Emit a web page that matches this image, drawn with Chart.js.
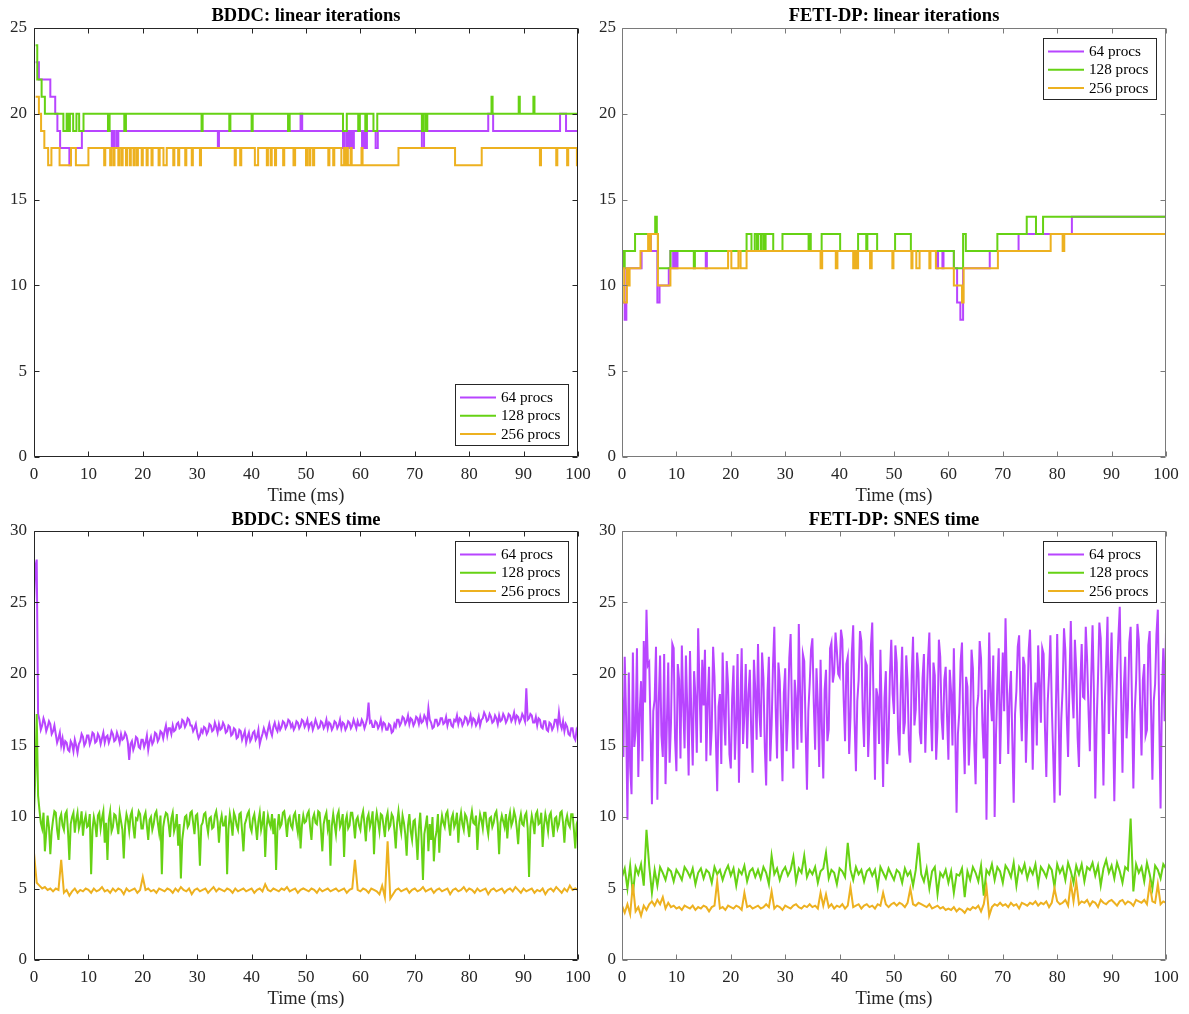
<!DOCTYPE html>
<html>
<head>
<meta charset="utf-8">
<script src="https://cdn.jsdelivr.net/npm/chart.js@4.4.1/dist/chart.umd.min.js"></script>
<style>
  body { margin: 0; background: #fff; }
  #wrap { position: relative; width: 1189px; height: 1014px; }
  canvas { position: absolute; }
</style>
</head>
<body>
<div id="wrap">
  <canvas id="c1" width="594" height="507" style="left:0;top:0"></canvas>
  <canvas id="c2" width="595" height="507" style="left:594px;top:0"></canvas>
  <canvas id="c3" width="594" height="507" style="left:0;top:503px"></canvas>
  <canvas id="c4" width="595" height="507" style="left:594px;top:503px"></canvas>
</div>
<script>
// series names, shared by every panel
const seriesLabels = ['64 procs', '128 procs', '256 procs'];
const seriesColors = ['#B845FF', '#66D214', '#EDB120'];

// linear iterations: [time (ms), iterations] change points (value holds until next point)
const bddcIter64 = [[0.3,23],[0.9,22],[3.0,21],[3.9,20],[4.3,19],[4.8,18],[6.5,17],[6.7,18],[8.8,19],
  [14.3,18],[14.6,19],[14.8,18],[15.2,19],[15.3,18],[15.5,19],[33.8,18],[34.0,19],[49.0,20],[49.3,19],
  [56.8,18],[57.0,19],[57.4,18],[57.7,19],[58.0,18],[58.3,19],[58.5,18],[58.8,19],[60.3,18],[60.6,19],
  [60.9,18],[61.2,19],[62.8,18],[63.2,19],[71.3,18],[71.7,19],[83.5,20],[84.4,19],[96.7,20],[97.8,19],[100,19]];
const bddcIter128 = [[0.3,24],[0.6,22],[1.4,21],[2.0,20],[5.4,19],[6.0,20],[6.3,19],[6.6,20],[7.2,19],
  [7.8,20],[8.3,19],[9.1,20],[13.6,19],[13.9,20],[16.6,19],[16.9,20],[30.8,19],[31.0,20],[35.9,19],[36.1,20],
  [40.0,19],[40.2,20],[46.7,19],[47.0,20],[56.8,19],[57.5,20],[59.6,19],[59.9,20],[60.9,19],[61.2,20],
  [62.4,19],[63.1,20],[71.3,19],[71.6,20],[72.0,19],[72.3,20],[84.1,21],[84.3,20],[89.1,21],[89.3,20],
  [91.8,21],[92.0,20],[100,20]];
const bddcIter256 = [[0.3,21],[0.9,20],[1.3,19],[1.9,18],[2.6,17],[3.2,18],[4.7,17],[6.8,18],[7.7,17],[10.0,18],
  [12.9,17],[13.1,18],[14.0,17],[14.2,18],[14.6,17],[14.8,18],[15.5,17],[15.7,18],[16.1,17],[16.3,18],
  [16.9,17],[17.1,18],[17.6,17],[17.8,18],[18.3,17],[18.5,18],[18.9,17],[19.1,18],[19.8,17],[20.0,18],
  [20.7,17],[20.9,18],[21.6,17],[21.8,18],[22.9,17],[23.1,18],[23.8,17],[24.4,18],[25.6,17],[25.8,18],
  [26.5,17],[26.7,18],[27.8,17],[28.0,18],[29.0,17],[29.2,18],[30.5,17],[30.7,18],[36.9,17],[37.1,18],
  [37.9,17],[38.1,18],[40.6,17],[41.2,18],[42.8,17],[43.0,18],[43.5,17],[43.7,18],[44.3,17],[44.5,18],
  [45.8,17],[46.0,18],[47.7,17],[48.0,18],[50.0,17],[50.2,18],[50.6,17],[50.8,18],[51.3,17],[51.5,18],
  [54.1,17],[54.3,18],[55.0,17],[55.2,18],[56.5,17],[57.0,18],[57.2,17],[57.5,18],[57.7,17],[58.2,18],
  [58.4,17],[60.2,18],[60.4,17],[67.0,18],[77.4,17],[82.3,18],[93.0,17],[93.2,18],[96.0,17],[96.2,18],
  [98.0,17],[98.2,18],[99.8,17],[100,17]];

const fetiIter64 = [[0.1,9],[0.5,8],[0.8,11],[3.6,12],[5.0,13],[5.3,12],[6.5,9],[6.9,10],[8.6,11],[8.9,12],
  [9.4,11],[9.6,12],[9.9,11],[10.2,12],[15.4,11],[15.6,12],[57.9,11],[58.1,12],[58.9,11],[59.1,12],
  [61.0,11],[61.6,9],[62.2,8],[62.7,11],[67.6,12],[72.9,13],[82.7,14],[100,14]];
const fetiIter128 = [[0,12],[0.2,11],[0.5,12],[2.4,13],[6.1,14],[6.4,13],[6.6,11],[8.9,12],[13.2,11],[13.4,12],
  [22.9,13],[23.8,12],[24.4,13],[24.8,12],[25.0,13],[25.5,12],[25.7,13],[26.1,12],[26.4,13],[27.8,12],
  [29.5,13],[34.3,12],[34.5,13],[34.7,12],[36.7,13],[40.1,12],[43.4,13],[44.9,12],[45.1,13],[46.9,12],
  [50.2,13],[53.1,12],[61.0,11],[62.7,13],[63.2,12],[69.0,13],[74.4,14],[76.1,13],[77.4,14],[100,14]];
const fetiIter256 = [[0.1,11],[0.4,9],[0.9,11],[1.1,10],[1.4,11],[3.4,12],[4.8,13],[5.1,12],[5.3,13],[6.6,10],
  [8.9,11],[19.5,12],[20.1,11],[21.4,12],[21.8,11],[22.9,12],[36.5,11],[36.8,12],[39.3,11],[39.6,12],
  [42.5,11],[42.8,12],[43.1,11],[43.4,12],[45.6,11],[45.9,12],[49.7,11],[49.9,12],[53.2,11],[53.4,12],
  [54.1,11],[54.7,12],[56.5,11],[56.7,12],[57.7,11],[61.0,10],[62.5,9],[62.8,11],[69.1,12],[78.8,13],
  [81.0,12],[81.3,13],[100,13]];

// SNES time samples from 0 to 100 ms, fine series every 0.25 ms, coarse every 0.5 ms
const fineStep = 0.25;
const coarseStep = 0.5;
const bddcSnes64 = [
  25, 27.5, 28, 17.2, 16.8, 16.1, 16.4, 16.9, 16.6, 16.0, 16.3, 16.7, 16.5, 15.8, 16.0, 16.4, 15.8, 15.2, 15.5, 15.9,
  15.0, 15.5, 14.8, 15.3, 15.2, 14.7, 14.6, 15.3, 15.1, 14.6, 15.4, 15.0, 14.5, 15.1, 15.3, 15.8, 15.6, 15.0, 15.2, 15.7,
  15.7, 15.1, 15.4, 15.9, 15.8, 15.2, 15.3, 15.8, 15.6, 15.1, 15.5, 15.9, 15.2, 15.6, 15.7, 15.2, 15.5, 16.0, 15.8, 15.3,
  15.4, 15.9, 15.6, 15.2, 15.8, 15.4, 15.5, 15.9, 15.7, 15.2, 14.0, 15.1, 15.3, 14.7, 15.0, 15.6, 15.5, 14.9, 14.8, 15.4,
  15.4, 14.9, 15.2, 15.7, 14.7, 15.3, 15.6, 15.1, 15.3, 15.9, 15.8, 15.3, 15.5, 16.0, 15.9, 15.5, 16.0, 16.4, 15.7, 16.2,
  16.2, 15.8, 16.4, 16.0, 16.1, 16.5, 16.6, 16.2, 16.3, 16.8, 16.7, 16.3, 16.5, 16.9, 16.8, 16.4, 16.4, 16.0, 16.2, 16.5,
  15.9, 15.5, 15.7, 16.1, 15.9, 16.3, 16.2, 15.8, 16.0, 16.5, 16.4, 16.0, 16.1, 16.6, 16.3, 15.9, 16.5, 16.1, 16.2, 16.6,
  16.4, 15.9, 16.0, 16.4, 16.3, 15.7, 15.8, 16.2, 16.1, 15.5, 15.6, 16.1, 16.0, 15.4, 15.7, 16.0, 15.2, 15.6, 15.9, 15.3,
  15.5, 15.9, 16.0, 15.4, 15.6, 16.1, 15.1, 15.5, 15.8, 16.2, 15.9, 15.6, 16.1, 16.5, 16.0, 15.7, 16.3, 16.6, 16.2, 16.0,
  16.5, 16.1, 16.3, 16.7, 16.6, 16.2, 16.4, 16.8, 16.7, 16.3, 16.5, 16.1, 16.3, 16.7, 16.6, 16.2, 16.4, 16.8, 16.7, 16.3,
  16.5, 16.8, 16.2, 16.5, 16.6, 16.1, 16.4, 16.8, 16.5, 16.2, 16.3, 16.7, 16.6, 16.2, 16.4, 16.8, 16.2, 16.6, 16.5, 16.1,
  16.3, 16.7, 16.6, 16.2, 16.4, 16.8, 16.2, 16.6, 16.5, 16.1, 16.3, 16.7, 16.6, 16.2, 16.4, 16.8, 16.5, 16.2, 16.7, 16.4,
  16.4, 16.8, 16.6, 16.2, 16.5, 16.9, 18.0, 16.6, 16.7, 16.3, 16.3, 16.7, 16.6, 16.2, 16.4, 16.8, 16.2, 16.6, 16.5, 16.1,
  16.1, 16.5, 16.4, 15.9, 16.0, 16.5, 16.3, 16.8, 16.8, 16.4, 16.6, 17.0, 16.9, 16.5, 16.7, 17.1, 16.5, 16.9, 16.8, 16.4,
  16.6, 17.0, 16.9, 16.5, 17.0, 16.6, 16.7, 17.1, 16.9, 16.5, 17.6, 16.8, 16.6, 16.2, 16.3, 16.8, 16.8, 16.4, 16.5, 16.9,
  16.9, 16.5, 16.6, 17.0, 16.4, 16.8, 16.8, 16.4, 16.3, 16.8, 16.7, 17.1, 16.5, 16.9, 16.8, 16.4, 16.6, 17.0, 16.9, 16.5,
  16.7, 17.1, 16.5, 16.9, 16.8, 16.4, 16.6, 17.0, 16.4, 16.8, 16.9, 17.3, 17.1, 16.7, 16.8, 17.2, 17.0, 16.6, 16.7, 17.1,
  16.9, 16.5, 17.1, 16.7, 16.8, 17.2, 17.0, 16.6, 16.8, 17.2, 17.1, 16.7, 16.9, 17.3, 16.7, 17.1, 17.0, 16.6, 16.8, 17.2,
  17.0, 16.7, 19.0, 16.8, 16.9, 17.2, 17.1, 16.6, 16.6, 17.0, 16.4, 16.9, 16.8, 16.3, 16.2, 16.7, 16.7, 16.1, 16.0, 16.6,
  16.5, 16.1, 16.3, 16.8, 16.8, 16.3, 17.3, 16.5, 16.2, 16.7, 16.0, 16.5, 16.3, 15.8, 15.7, 16.2, 16.2, 15.6, 15.4, 16.1,
  15.9];
const bddcSnes128 = [
  10.2, 13.0, 17.2, 11.5, 10.5, 9.6, 9.2, 10.3, 7.6, 8.9, 10.1, 9.3, 7.4, 9.0, 9.8, 10.4, 10.3, 9.1, 8.4, 9.9,
  10.2, 9.4, 9.1, 10.2, 10.4, 9.0, 7.0, 9.5, 10.0, 10.3, 8.9, 9.8, 10.3, 9.2, 9.6, 10.4, 8.7, 9.7, 10.1, 9.3,
  9.4, 10.2, 6.0, 9.1, 10.0, 9.5, 8.6, 10.1, 10.3, 9.2, 9.9, 10.4, 8.2, 9.6, 7.0, 9.8, 10.4, 9.0, 9.3, 10.2,
  10.1, 9.5, 8.8, 10.3, 9.7, 9.1, 7.1, 9.4, 10.2, 9.8, 9.0, 10.1, 10.4, 9.3, 8.5, 9.9, 9.8, 10.4, 10.2, 9.2,
  9.2, 10.0, 10.3, 9.4, 8.4, 9.8, 10.0, 9.1, 9.5, 10.2, 10.4, 9.6, 8.9, 10.1, 6.0, 9.3, 9.9, 10.3, 10.2, 9.5,
  8.6, 9.9, 10.3, 9.0, 9.4, 10.2, 8.0, 9.5, 5.7, 8.4, 9.2, 10.0, 10.1, 9.3, 9.5, 10.3, 10.4, 9.6, 8.8, 10.1,
  10.2, 9.0, 6.6, 9.4, 9.6, 10.2, 10.3, 9.5, 8.9, 9.9, 10.0, 9.2, 9.3, 10.1, 10.4, 9.7, 8.2, 9.6, 10.1, 9.4,
  9.4, 10.1, 6.0, 9.2, 10.2, 9.6, 8.7, 10.3, 10.0, 9.4, 9.1, 10.2, 10.3, 9.0, 7.6, 9.5, 9.8, 10.2, 10.4, 9.3,
  9.0, 9.9, 10.2, 9.4, 8.4, 9.7, 10.3, 9.1, 9.6, 10.4, 7.2, 9.3, 10.1, 9.6, 9.3, 10.2, 8.8, 9.9, 6.3, 9.2,
  10.2, 9.3, 9.5, 10.3, 10.4, 9.7, 8.6, 9.8, 10.0, 9.4, 9.2, 10.1, 10.3, 9.5, 8.9, 10.2, 7.8, 9.4, 10.1, 9.6,
  9.7, 10.2, 10.4, 9.3, 8.4, 9.9, 10.2, 9.6, 9.5, 10.4, 10.3, 9.1, 7.6, 9.5, 10.0, 10.3, 9.2, 9.8, 6.6, 9.4,
  10.2, 9.5, 8.8, 10.1, 10.4, 9.3, 9.6, 10.2, 7.2, 9.7, 10.1, 9.2, 9.4, 10.3, 10.3, 9.6, 8.5, 9.8, 10.0, 9.4,
  9.1, 10.0, 10.4, 9.5, 8.3, 9.9, 10.2, 9.3, 9.7, 10.4, 7.4, 9.6, 10.3, 9.7, 9.0, 10.2, 10.1, 9.4, 8.6, 9.9,
  10.3, 9.2, 9.4, 10.2, 10.0, 9.1, 7.8, 9.6, 10.4, 9.5, 8.9, 10.1, 9.6, 8.8, 7.3, 9.4, 10.2, 9.0, 8.4, 9.7,
  9.8, 8.6, 7.0, 9.2, 10.3, 8.4, 5.6, 8.8, 9.4, 10.1, 7.6, 9.5, 8.4, 10.0, 6.9, 8.5, 9.0, 10.2, 7.5, 9.3,
  10.1, 9.6, 9.3, 10.2, 10.4, 9.5, 8.7, 9.9, 10.2, 9.3, 9.6, 10.3, 8.2, 9.7, 10.3, 9.5, 9.1, 10.2, 10.0, 9.4,
  8.6, 9.8, 10.4, 9.6, 9.5, 10.1, 7.7, 9.4, 10.2, 9.8, 9.2, 10.3, 10.3, 9.4, 8.8, 9.9, 10.0, 9.3, 9.6, 10.2,
  10.4, 9.5, 7.4, 9.6, 10.1, 9.7, 9.3, 10.2, 8.5, 9.8, 10.3, 9.4, 9.7, 10.4, 10.0, 9.2, 8.1, 9.7, 10.2, 9.5,
  9.4, 10.1, 10.3, 9.2, 5.8, 9.3, 10.1, 9.6, 8.8, 10.2, 10.4, 9.5, 9.6, 10.3, 7.9, 9.4, 10.2, 9.7, 9.0, 10.1,
  10.3, 9.4, 8.6, 9.9, 10.0, 9.2, 9.5, 10.3, 10.4, 9.6, 8.2, 9.7, 10.1, 9.5, 9.3, 10.2, 10.2, 9.1, 7.8, 9.5,
  9.8];
const bddcSnes256 = [
  7.5, 5.4, 5.2, 5.0, 5.1, 4.9, 5.0, 4.8, 5.0, 4.9,
  7.0, 4.7, 4.9, 4.5, 4.8, 5.0, 4.7, 4.9, 4.8, 5.0,
  4.9, 4.7, 5.0, 4.8, 4.9, 5.1, 4.8, 4.9, 4.7, 5.0,
  4.8, 5.0, 4.9, 4.6, 5.0, 4.8, 4.9, 5.0, 4.7, 4.9,
  5.8, 4.9, 5.0, 4.8, 4.9, 4.7, 5.0, 4.9, 4.8, 5.0,
  4.9, 4.7, 5.0, 4.8, 5.1, 4.9, 4.8, 5.0, 4.6, 4.9,
  5.0, 4.8, 4.9, 5.0, 4.7, 4.9, 5.1, 4.8, 5.0, 4.9,
  4.8, 5.0, 4.9, 4.7, 5.0, 4.8, 4.9, 5.0, 4.8, 4.9,
  5.0, 4.7, 4.9, 5.0, 4.8, 5.3, 4.9, 4.8, 5.0, 4.9,
  4.8, 5.0, 4.9, 5.1, 4.8, 4.9, 5.0, 4.7, 4.9, 5.0,
  4.9, 4.8, 5.0, 4.9, 4.7, 5.0, 4.8, 4.9, 5.0, 4.8,
  4.9, 5.0, 4.8, 4.9, 5.0, 4.7, 4.9, 5.0, 7.0, 4.9,
  4.8, 5.0, 4.9, 4.7, 5.0, 4.9, 4.8, 4.6, 5.2, 4.4,
  8.3, 4.3, 4.6, 4.9, 5.0, 4.8, 4.9, 5.0, 4.7, 4.9,
  5.0, 4.8, 4.9, 5.1, 4.8, 4.9, 5.0, 4.7, 4.9, 5.0,
  4.8, 4.9, 5.0, 4.6, 4.9, 5.0, 4.8, 4.9, 5.1, 4.8,
  5.0, 4.9, 4.7, 5.0, 4.8, 4.9, 5.0, 4.6, 4.9, 5.0,
  4.8, 4.9, 5.0, 4.7, 4.9, 5.0, 4.8, 5.1, 4.9, 4.7,
  5.0, 4.8, 4.9, 5.0, 4.7, 4.9, 4.8, 5.0, 4.6, 4.9,
  5.0, 4.8, 5.1, 4.9, 4.7, 5.0, 4.8, 5.2, 4.9, 5.0,
  4.9];

const fetiSnes64 = [
  18.5, 14.2, 21.2, 17.0, 9.8, 20.1, 13.5, 11.6, 21.5, 14.9, 16.0, 21.8, 12.8, 17.3, 19.5, 13.9, 22.3, 18.0, 24.5, 20.6,
  20.8, 16.1, 10.9, 17.4, 18.2, 21.9, 11.2, 18.0, 21.3, 15.7, 14.2, 21.4, 12.3, 16.6, 20.8, 13.8, 16.5, 22.1, 21.8, 15.5,
  13.2, 20.7, 19.6, 14.1, 22.0, 17.9, 14.8, 21.3, 17.5, 12.9, 21.6, 17.0, 13.6, 20.2, 18.4, 14.5, 23.2, 19.0, 15.2, 21.0,
  17.8, 21.7, 13.9, 18.1, 20.5, 14.3, 16.2, 21.9, 19.8, 15.6, 11.8, 17.7, 18.6, 13.7, 21.5, 17.2, 15.0, 20.9, 19.2, 14.4,
  13.4, 18.3, 20.6, 14.0, 16.8, 21.4, 12.4, 17.9, 21.8, 15.1, 17.2, 20.7, 14.8, 18.6, 20.3, 16.0, 13.1, 21.0, 18.9, 15.4,
  22.1, 17.3, 15.6, 21.5, 19.7, 14.9, 12.2, 18.8, 21.2, 13.9, 16.4, 20.5, 23.3, 17.6, 14.1, 20.8, 19.5, 15.9, 12.5, 18.7,
  20.4, 14.6, 16.9, 21.1, 22.8, 17.1, 13.4, 19.6, 18.2, 14.7, 23.5, 18.5, 15.2, 21.4, 20.9, 16.3, 11.9, 17.4, 19.3, 21.7,
  22.5, 18.0, 14.7, 20.4, 17.9, 13.5, 21.0, 16.2, 12.7, 18.9, 20.3, 15.3, 16.1, 21.8, 22.2, 19.4, 20.1, 22.9, 21.6, 20.0,
  19.8, 23.1, 22.4, 18.2, 15.3, 20.7, 21.2, 14.4, 17.0, 21.5, 23.4, 16.8, 13.2, 18.1, 19.6, 23.0, 22.3, 17.4, 14.9, 20.9,
  20.6, 14.2, 16.8, 21.9, 23.6, 17.7, 12.6, 19.0, 18.4, 15.1, 21.7, 17.0, 12.1, 18.3, 20.2, 13.7, 15.5, 20.0, 22.4, 18.6,
  17.2, 22.0, 20.8, 16.0, 14.3, 19.1, 21.9, 15.8, 16.6, 21.3, 19.4, 14.7, 13.8, 19.9, 22.6, 16.4, 17.5, 21.5, 20.1, 15.9,
  15.1, 19.7, 21.4, 14.5, 18.0, 21.0, 22.9, 17.3, 14.6, 20.8, 19.9, 14.0, 16.3, 22.4, 21.2, 16.9, 15.4, 19.6, 20.5, 17.0,
  14.0, 20.3, 18.7, 15.0, 21.8, 16.2, 10.3, 15.8, 17.3, 20.9, 22.2, 16.1, 13.0, 19.8, 19.1, 13.6, 16.0, 21.7, 20.4, 15.2,
  12.3, 17.6, 18.5, 22.3, 21.1, 16.5, 14.1, 18.9, 9.8, 17.0, 22.9, 18.4, 16.7, 21.3, 10.0, 15.7, 19.2, 21.8, 13.7, 18.0,
  21.5, 17.4, 23.9, 19.2, 14.4, 18.6, 20.2, 15.4, 11.0, 17.2, 18.8, 21.9, 22.7, 17.8, 15.3, 21.2, 20.6, 13.8, 17.1, 21.6,
  23.1, 18.5, 13.3, 17.9, 19.4, 15.0, 22.0, 19.3, 16.6, 21.8, 21.4, 16.2, 12.8, 18.0, 20.0, 22.7, 17.8, 14.6, 11.0, 17.5,
  22.8, 17.6, 11.5, 16.8, 19.0, 23.2, 21.6, 17.1, 14.2, 19.5, 23.7, 18.9, 16.9, 22.4, 20.3, 15.6, 13.5, 19.2, 22.1, 18.4,
  18.3, 23.3, 21.0, 17.5, 14.6, 19.8, 23.4, 18.6, 11.3, 16.5, 19.7, 23.6, 22.5, 17.7, 12.2, 17.9, 20.8, 24.0, 15.8, 19.9,
  22.9, 17.0, 11.1, 16.4, 20.0, 22.6, 24.7, 18.3, 13.1, 19.0, 21.2, 15.5, 17.6, 22.2, 23.3, 17.9, 12.0, 17.3, 19.5, 23.5,
  22.4, 17.8, 14.3, 19.6, 20.7, 15.7, 16.1, 22.0, 23.0, 17.5, 12.6, 18.1, 19.3, 22.8, 24.5, 16.9, 10.6, 18.4, 21.8, 16.7,
  23.0];
const fetiSnes128 = [
  5.8, 6.4, 5.0, 6.6, 4.6, 6.5, 6.0, 6.7, 5.2, 9.1,
  6.6, 4.7, 6.3, 5.2, 6.5, 6.1, 5.6, 6.4, 6.2, 5.5,
  6.3, 6.0, 5.6, 6.5, 6.2, 5.8, 6.4, 5.3, 6.1, 6.4,
  5.7, 6.3, 6.1, 5.4, 6.5, 6.0, 6.3, 5.6, 6.2, 6.6,
  5.9, 6.4, 5.2, 6.3, 6.0, 6.6, 5.5, 6.2, 6.4, 5.8,
  6.3, 5.7, 6.5, 6.1, 5.3, 7.3, 6.0, 6.4, 5.6, 6.2,
  6.5, 5.9, 6.3, 7.2, 5.5, 6.4, 6.1, 7.3, 5.8, 6.3,
  6.0, 6.5, 5.4, 6.2, 6.4, 7.5, 5.7, 6.3, 6.1, 5.3,
  6.4, 6.2, 5.8, 8.2, 6.3, 5.6, 6.5, 6.0, 6.3, 5.5,
  6.2, 6.4, 5.9, 6.3, 5.1, 6.5, 6.1, 5.7, 6.4, 6.0,
  5.6, 6.3, 6.1, 5.4, 6.4, 5.9, 6.2, 5.2, 6.3, 8.2,
  6.0, 5.5, 6.4, 5.0, 6.2, 6.5, 4.6, 6.1, 5.8, 6.3,
  5.4, 6.2, 4.7, 6.0, 5.9, 6.4, 4.4, 6.2, 5.6, 6.5,
  6.1, 5.5, 6.6, 4.5, 6.3, 6.0, 6.7, 5.6, 6.5, 6.2,
  5.4, 6.6, 6.3, 5.8, 6.8, 5.2, 6.5, 6.1, 6.7, 5.7,
  6.4, 6.0, 6.7, 5.3, 6.5, 6.2, 5.8, 6.6, 6.3, 5.1,
  6.7, 6.1, 6.5, 5.6, 6.8, 6.2, 5.4, 6.6, 6.0, 6.7,
  5.5, 6.5, 6.3, 6.8, 5.9, 6.6, 5.2, 6.4, 7.0, 6.1,
  6.6, 5.7, 6.8, 6.2, 5.4, 6.5, 6.3, 9.9, 4.8, 6.7,
  6.1, 6.5, 5.5, 6.8, 6.0, 5.0, 6.6, 6.3, 5.7, 6.7,
  6.4];
const fetiSnes256 = [
  3.8, 3.3, 3.9, 3.2, 5.3, 3.4, 3.7, 3.1, 3.8, 3.5,
  3.9, 4.1, 3.8, 4.2, 3.9, 4.4, 3.6, 4.0, 3.7, 3.8,
  3.6, 3.7, 3.5, 3.8, 3.7, 3.6, 3.8, 3.5, 3.7, 3.6,
  3.8, 3.7, 3.4, 3.7, 3.8, 5.5, 3.6, 3.7, 3.5, 3.8,
  3.7, 3.6, 3.8, 3.7, 3.5, 4.7, 3.7, 3.8, 3.6, 3.7,
  3.8, 3.6, 3.7, 3.9, 3.7, 4.8, 3.6, 3.8, 3.7, 3.5,
  3.8, 3.7, 3.6, 3.8, 3.9, 3.7, 3.6, 3.8, 3.7, 3.9,
  3.7, 3.8, 3.6, 4.7, 3.8, 4.6, 3.7, 3.9, 3.6, 3.8,
  3.7, 3.9, 3.6, 3.8, 5.1, 3.7, 3.8, 3.9, 3.6, 3.8,
  3.9, 3.7, 3.8, 3.6, 3.9, 3.8, 4.7, 3.9, 3.7, 3.9,
  4.0, 3.8, 4.0, 3.9, 3.7, 4.0, 5.0, 3.9, 3.8, 4.0,
  3.9, 3.8, 3.7, 3.9, 3.6, 3.7, 3.8, 3.6, 3.7, 3.5,
  3.6, 3.5, 3.7, 3.4, 3.6, 3.5, 3.3, 3.6, 3.5, 3.7,
  3.6, 3.8, 3.4, 3.9, 5.1, 3.1, 3.7, 3.9, 3.8, 4.0,
  3.8, 3.9, 3.7, 4.0, 3.8, 3.9, 3.6, 4.0, 3.9, 3.8,
  4.0, 3.9, 4.1, 3.8, 4.0, 3.9, 4.1, 3.7, 4.0, 5.0,
  4.1, 3.9, 4.0, 4.2, 3.8, 5.4, 4.1, 5.5, 3.9, 4.1,
  4.0, 4.2, 3.8, 4.1, 4.0, 3.7, 4.2, 4.0, 3.9, 4.1,
  4.2, 4.0, 3.8, 4.1, 4.2, 3.9, 4.1, 4.0, 3.8, 4.2,
  4.1, 4.0, 4.2, 3.9, 5.3, 4.1, 4.0, 5.3, 3.9, 4.1,
  4.0];

Chart.defaults.font.family = "'Liberation Serif', 'Times New Roman', serif";
Chart.defaults.color = '#262626';

// MATLAB-like box with inward ticks, bold title and boxed legend
const matlabFrame = {
  id: 'matlabFrame',
  afterDraw(chart, args, opts) {
    const { ctx, chartArea: a, scales: { x, y } } = chart;
    const L = Math.round(a.left) + 0.5, R = Math.round(a.right) - 0.5;
    const T = Math.round(a.top) + 0.5, B = Math.round(a.bottom) - 0.5;
    ctx.save();
    ctx.strokeStyle = opts.axisColor;
    ctx.lineWidth = 1;
    ctx.beginPath();
    ctx.rect(L, T, R - L, B - T);
    x.ticks.forEach(t => {
      const p = Math.round(x.getPixelForValue(t.value)) + 0.5;
      ctx.moveTo(p, B); ctx.lineTo(p, B - 5);
      ctx.moveTo(p, T); ctx.lineTo(p, T + 5);
    });
    y.ticks.forEach(t => {
      const p = Math.round(y.getPixelForValue(t.value)) + 0.5;
      ctx.moveTo(L, p); ctx.lineTo(L + 5, p);
      ctx.moveTo(R, p); ctx.lineTo(R - 5, p);
    });
    ctx.stroke();

    // title
    ctx.fillStyle = '#000';
    ctx.font = "bold 18.5px 'Liberation Serif'";
    ctx.textAlign = 'center';
    ctx.textBaseline = 'alphabetic';
    ctx.fillText(opts.title, (a.left + a.right) / 2, opts.titleY);

    // legend box
    const w = 113, h = 61;
    const left = Math.round(a.right) - 10 - w;
    const top = opts.legendAt === 'top' ? Math.round(a.top) + 10 : Math.round(a.bottom) - 12 - h;
    ctx.fillStyle = '#fff';
    ctx.fillRect(left, top, w, h);
    ctx.strokeStyle = '#262626';
    ctx.strokeRect(left + 0.5, top + 0.5, w, h);
    ctx.font = "15.2px 'Liberation Serif'";
    ctx.textAlign = 'left';
    ctx.textBaseline = 'middle';
    chart.data.datasets.forEach((ds, i) => {
      const ry = top + 13.5 + i * 18.3;
      ctx.strokeStyle = ds.borderColor;
      ctx.lineWidth = 2;
      ctx.beginPath();
      ctx.moveTo(left + 5, ry); ctx.lineTo(left + 41, ry);
      ctx.stroke();
      ctx.fillStyle = '#000';
      ctx.fillText(ds.label, left + 46, ry + 0.5);
    });
    ctx.restore();
  }
};

function stepSets(series) {
  return series.map((pts, i) => ({
    label: seriesLabels[i],
    data: pts.map(p => ({ x: p[0], y: p[1] })),
    borderColor: seriesColors[i],
    backgroundColor: seriesColors[i],
    borderWidth: 2,
    pointRadius: 0,
    stepped: true,
    order: 3 - i
  }));
}

function sampledSets(series, steps) {
  return series.map((vals, i) => ({
    label: seriesLabels[i],
    data: vals.map((v, k) => ({ x: k * steps[i], y: v })),
    borderColor: seriesColors[i],
    backgroundColor: seriesColors[i],
    borderWidth: 2,
    pointRadius: 0,
    order: 3 - i
  }));
}

function makePanel(id, datasets, o) {
  new Chart(document.getElementById(id), {
    type: 'line',
    data: { datasets },
    plugins: [matlabFrame],
    options: {
      responsive: false,
      animation: false,
      devicePixelRatio: 1,
      events: [],
      layout: { padding: { left: 0, right: o.padRight, top: 28, bottom: 0 } },
      plugins: {
        legend: { display: false },
        tooltip: { enabled: false },
        matlabFrame: { title: o.title, titleY: o.titleY, legendAt: o.legendAt, axisColor: o.axisColor }
      },
      scales: {
        x: {
          type: 'linear', min: 0, max: 100,
          grid: { display: false, drawTicks: false },
          border: { display: false },
          ticks: { stepSize: 10, padding: 7, font: { size: 17 } },
          title: { display: true, text: 'Time (ms)', font: { size: 18.5 }, padding: { top: 0, bottom: 0 } },
          afterFit: s => { s.height = 50; s.paddingLeft = 0; s.paddingRight = 0; }
        },
        y: {
          min: 0, max: o.yMax,
          grid: { display: false, drawTicks: false },
          border: { display: false },
          ticks: { stepSize: 5, padding: o.yPad, font: { size: 17 } },
          afterFit: s => { s.width = o.yWidth; s.paddingTop = 0; s.paddingBottom = 0; }
        }
      }
    }
  });
}

makePanel('c1', stepSets([bddcIter64, bddcIter128, bddcIter256]),
  { title: 'BDDC: linear iterations', titleY: 21, legendAt: 'bottom', yMax: 25, yWidth: 34, yPad: 7, padRight: 16, axisColor: '#262626' });
makePanel('c2', stepSets([fetiIter64, fetiIter128, fetiIter256]),
  { title: 'FETI-DP: linear iterations', titleY: 21, legendAt: 'top', yMax: 25, yWidth: 28, yPad: 6, padRight: 23, axisColor: '#7a7a7a' });
makePanel('c3', sampledSets([bddcSnes64, bddcSnes128, bddcSnes256], [fineStep, fineStep, coarseStep]),
  { title: 'BDDC: SNES time', titleY: 22, legendAt: 'top', yMax: 30, yWidth: 34, yPad: 7, padRight: 16, axisColor: '#262626' });
makePanel('c4', sampledSets([fetiSnes64, fetiSnes128, fetiSnes256], [fineStep, coarseStep, coarseStep]),
  { title: 'FETI-DP: SNES time', titleY: 22, legendAt: 'top', yMax: 30, yWidth: 28, yPad: 6, padRight: 23, axisColor: '#7a7a7a' });
</script>
</body>
</html>
